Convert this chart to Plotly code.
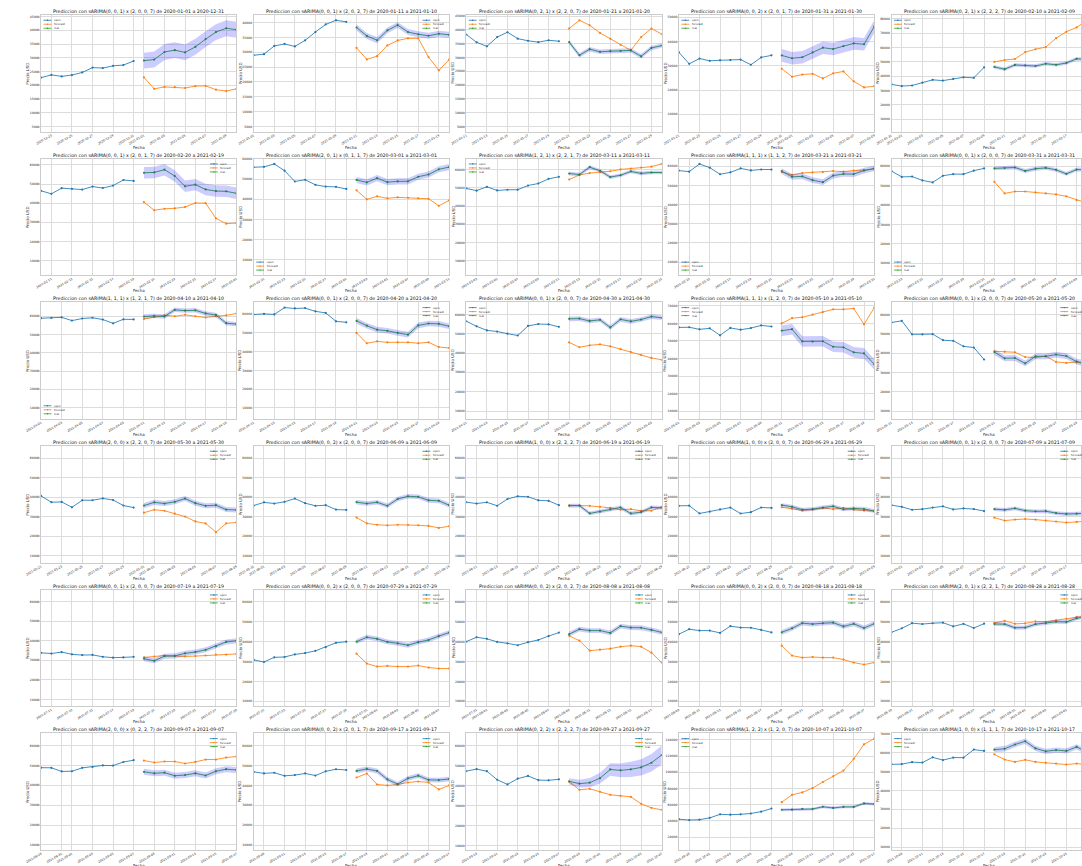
import math
import pandas as pd
import plotly.graph_objects as go

ANCHO, ALTO = 1082, 866

# Precio de apertura diario BTC-USD, 2020-12-22 .. 2021-10-27 (diez dias por fila)
open_usd = [
    22794, 23782, 23241, 23733, 24678, 26439, 26280, 27081, 27360, 28841,
    28995, 29376, 32129, 32810, 31977, 34013, 36826, 39381, 40788, 40254,
    38346, 35516, 34051, 37394, 39157, 36828, 36070, 35565, 36250, 35900,
    35547, 30817, 33005, 32065, 32286, 32359, 32565, 30442, 33468, 34318,
    34296, 33115, 33533, 35510, 37475, 36931, 38138, 39250, 38886, 46184,
    46469, 44898, 47877, 47491, 47114, 48696, 47945, 49207, 52140, 51675,
    55888, 56100, 57532, 54204, 48835, 49709, 47180, 46345, 46194, 45159,
    49612, 48416, 50522, 48528, 48900, 48918, 51207, 52302, 54861, 55964,
    57752, 57212, 61222, 59267, 55841, 56826, 58893, 57851, 58333, 58309,
    57517, 54511, 54711, 52727, 51683, 55137, 55974, 55948, 57751, 58930,
    58927, 59098, 59397, 57605, 58760, 59171, 58186, 56099, 58326, 58253,
    59846, 60175, 59890, 63523, 63075, 63259, 61529, 60701, 56191, 55681,
    56471, 53857, 51739, 51143, 50052, 49077, 54030, 55036, 54858, 53568,
    57714, 57825, 56620, 57215, 53252, 57441, 56413, 57352, 58877, 58250,
    55848, 56714, 49735, 49682, 49856, 46717, 46415, 43538, 42944, 36754,
    40597, 37371, 37531, 34771, 38393, 38392, 39316, 38507, 35684, 34607,
    35658, 37293, 36699, 37599, 39242, 36880, 35539, 35835, 33589, 33417,
    37389, 36697, 37340, 35556, 39016, 40427, 40168, 38341, 38100, 35854,
    35563, 35641, 31622, 32515, 33683, 34663, 31594, 32287, 34679, 34476,
    35908, 35035, 33549, 33854, 34665, 35284, 33723, 34225, 33889, 32877,
    33857, 33510, 34259, 33086, 32729, 32813, 31841, 31397, 31534, 31801,
    30838, 29797, 32139, 32305, 33593, 34290, 35406, 37253, 39456, 40008,
    40026, 42245, 41461, 39907, 39178, 38213, 39744, 40865, 42832, 44574,
    43791, 46280, 45601, 45574, 44429, 47835, 47096, 47020, 45937, 44686,
    44741, 46723, 49328, 48869, 49292, 49562, 47706, 48992, 46895, 49077,
    48911, 48834, 47024, 47100, 48808, 49278, 50026, 49944, 51770, 52660,
    46827, 46070, 46395, 44843, 45207, 46057, 44960, 47099, 48137, 47771,
    47300, 48314, 47262, 43012, 40677, 43575, 44896, 42840, 42722, 43234,
    42202, 41064, 41536, 43816, 48138, 47689, 48200, 49174, 51487, 55339,
    53802, 53929, 54952, 54734, 57526, 56039, 57372, 57345, 61609, 60888,
    61548, 62043, 64285, 66002, 62237, 60694, 61369, 60894, 63032, 60352,
]
fechas = pd.date_range("2020-12-22", periods=len(open_usd), freq="D")

# Ordenes de cada modelo sARIMA
orden = [
    "(0, 0, 1)", "(0, 0, 1)", "(0, 2, 1)", "(0, 0, 2)", "(0, 2, 1)",
    "(0, 0, 1)", "(2, 0, 1)", "(1, 2, 1)", "(1, 1, 1)", "(0, 0, 1)",
    "(1, 1, 1)", "(0, 0, 1)", "(0, 0, 1)", "(1, 1, 1)", "(0, 0, 1)",
    "(2, 0, 0)", "(0, 0, 2)", "(1, 0, 0)", "(1, 0, 0)", "(0, 0, 1)",
    "(0, 0, 1)", "(0, 0, 2)", "(0, 0, 2)", "(0, 0, 2)", "(2, 0, 1)",
    "(2, 0, 0)", "(0, 0, 2)", "(0, 2, 2)", "(1, 2, 2)", "(1, 0, 0)",
]
orden_estacional = [
    "(2, 0, 0, 7)", "(2, 0, 2, 7)", "(2, 2, 0, 7)", "(2, 0, 1, 7)", "(2, 2, 2, 7)",
    "(2, 0, 1, 7)", "(0, 1, 1, 7)", "(2, 2, 1, 7)", "(1, 1, 2, 7)", "(2, 0, 0, 7)",
    "(1, 2, 1, 7)", "(2, 0, 0, 7)", "(2, 0, 0, 7)", "(1, 2, 0, 7)", "(2, 0, 0, 7)",
    "(2, 2, 0, 7)", "(2, 0, 0, 7)", "(2, 2, 2, 7)", "(2, 0, 0, 7)", "(2, 0, 0, 7)",
    "(2, 0, 0, 7)", "(2, 0, 0, 7)", "(2, 0, 2, 7)", "(2, 0, 0, 7)", "(2, 2, 1, 7)",
    "(0, 2, 2, 7)", "(2, 0, 1, 7)", "(2, 2, 2, 7)", "(1, 2, 0, 7)", "(1, 1, 1, 7)",
]

# Pronostico a diez dias de cada ventana
pronostico = [
    [22900, 18700, 19400, 19300, 19000, 19700, 19800, 18400, 17900, 18700],
    [31500, 27600, 28700, 32300, 34000, 34700, 34700, 28400, 23900, 27500],
    [40500, 43500, 41700, 38900, 36800, 34600, 32600, 37400, 40500, 38500],
    [28800, 25500, 26400, 26700, 24800, 26900, 27700, 23600, 21100, 21600],
    [50000, 51300, 52000, 56800, 58800, 60300, 66500, 71000, 74000, 79000],
    [40600, 36300, 37100, 37300, 38000, 40100, 40000, 32100, 29300, 29600],
    [44500, 40000, 41500, 40500, 41000, 40800, 40500, 40300, 36800, 39500],
    [54500, 57000, 58000, 58500, 59000, 60000, 60500, 61000, 61500, 63000],
    [57000, 55500, 56500, 56800, 57000, 57500, 57200, 57800, 58000, 58500],
    [52000, 46000, 47000, 47000, 46500, 46000, 45500, 44500, 42500, 41000],
    [58500, 59500, 60500, 60000, 60800, 60000, 59300, 60000, 60500, 61500],
    [50000, 44500, 45500, 45000, 45000, 45000, 44500, 45000, 42500, 42000],
    [45500, 43000, 44000, 44500, 43500, 42000, 40500, 39000, 37500, 36500],
    [60000, 63000, 63500, 65000, 66500, 68000, 68000, 68500, 59500, 69000],
    [41000, 40800, 40500, 38000, 37800, 38500, 35500, 35000, 35500, 34000],
    [32000, 33500, 33000, 31500, 30000, 27500, 26500, 22000, 26500, 27000],
    [29500, 26500, 25800, 25500, 25800, 25800, 25500, 25200, 24200, 25000],
    [35800, 35700, 35500, 35000, 34500, 33500, 33800, 33000, 33000, 35000],
    [34800, 34000, 33200, 33600, 34400, 33800, 34500, 33500, 33000, 32800],
    [29500, 28000, 28500, 28800, 28500, 28000, 27500, 27000, 27300, 27800],
    [31500, 32000, 32500, 32200, 32000, 32200, 32500, 33000, 33000, 33300],
    [34000, 29000, 27500, 27800, 27500, 27500, 28000, 27000, 26500, 26500],
    [43000, 40500, 35500, 36000, 36500, 37500, 38000, 37500, 34500, 29500],
    [38000, 33000, 32000, 32300, 32000, 32000, 31000, 29500, 28500, 29500],
    [49500, 50500, 49000, 49200, 50200, 50000, 50800, 51500, 52500, 53000],
    [52500, 51500, 52000, 52000, 51000, 51800, 53000, 53000, 54000, 54500],
    [44000, 46000, 40500, 40000, 40500, 41500, 42000, 41500, 38000, 40000],
    [42000, 38000, 38500, 37000, 35500, 35000, 34500, 31000, 29000, 28000],
    [63200, 72300, 75200, 80600, 88100, 95200, 102200, 116700, 134600, 141700],
    [59100, 56300, 55100, 56200, 55100, 54600, 54200, 53700, 54200, 53700],
]

# Semiancho de la banda alrededor del valor real (la ventana 28 se abre dia a dia)
banda = [2900, 1000, 800, 2600, 1200, 3000, 1500, 1000, 1500, 1000,
         1200, 1500, 1200, 3000, 1500, 1300, 1200, 1000, 1000, 1000,
         1300, 1200, 1200, 1200, 1000, 1500, 1200, None, 1700, 1400]
banda_ventana_28 = [1500, 1900, 2300, 2700, 3100, 3400, 3800, 4100, 4400, 4700]

# Minimo de apertura dentro de cada ano de entrenamiento
minimo_entrenamiento = [5017, 5017, 5017, 5017, 5017, 5017, 5017, 5017, 5831, 6430,
                        6640, 6880, 8610, 8610, 8786, 9048, 9048, 9048, 9084, 9131,
                        9161, 10134, 10134, 10134, 10134, 10134, 10249, 10603, 10603, 11322]

posicion_leyenda = ["UL", "UR", "UL", "UL", "UL",
                    "UR", "LL", "UL", "LL", "LL",
                    "LL", "UR", "UL", "UL", "UR",
                    "UR", "UR", "UR", "UR", "UR",
                    "UR", "UR", "UR", "UR", "UR",
                    "UR", "UR", "UR", "UL", "UL"]

AZUL, NARANJA, VERDE = "#1f77b4", "#ff7f0e", "#2ca02c"
RELLENO = "rgba(0,0,255,0.2)"
GRID, BORDE, TEXTO = "#dcdcdc", "#cccccc", "#262626"
FUENTE = "DejaVu Sans"


def paso_nice(span, nbins=9):
    bruto = span / nbins
    mag = 10 ** math.floor(math.log10(bruto))
    for s in (1, 2, 2.5, 5, 10):
        if s * mag >= bruto - 1e-9:
            return s * mag
    return 10 * mag


def px(x):
    return x / ANCHO


def py(y):
    return 1 - y / ALTO


fig = go.Figure()
layout = {}
formas = []
notas = []

for k in range(30):
    fila, col = divmod(k, 5)
    x0 = 25.5 + 216 * col
    x1 = x0 + 198.5
    y0 = 13 + 144 * fila
    y1 = y0 + 117
    sufijo = "" if k == 0 else str(k + 1)
    xa, ya = "x" + sufijo, "y" + sufijo

    f_open = fechas[10 * k:10 * k + 10]
    v_open = open_usd[10 * k:10 * k + 10]
    f_real = fechas[10 * k + 10:10 * k + 20]
    v_real = open_usd[10 * k + 10:10 * k + 20]
    v_fc = pronostico[k]
    semi = banda_ventana_28 if banda[k] is None else [banda[k]] * 10
    sup = [v + h for v, h in zip(v_real, semi)]
    inf = [v - h for v, h in zip(v_real, semi)]

    comun = dict(xaxis=xa, yaxis=ya, showlegend=False, hoverinfo="skip")
    for xs, ys, color in ((f_open, v_open, AZUL), (f_real, v_fc, NARANJA), (f_real, v_real, VERDE)):
        fig.add_trace(go.Scatter(x=xs, y=ys, mode="lines+markers",
                                 line=dict(color=color, width=0.85),
                                 marker=dict(size=2.2, color=color), **comun))
    fig.add_trace(go.Scatter(x=f_real, y=sup, mode="lines", line=dict(width=0), **comun))
    fig.add_trace(go.Scatter(x=f_real, y=inf, mode="lines", line=dict(width=0),
                             fill="tonexty", fillcolor=RELLENO, **comun))

    # escala vertical: todo el ano de entrenamiento mas lo dibujado, con 5 % de margen
    todos = list(v_open) + list(v_fc) + sup + inf
    mn = min(minimo_entrenamiento[k], min(todos))
    mx = max(max(open_usd[:10 * k + 10]), max(todos))
    pad = 0.05 * (mx - mn)
    lo, hi = mn - pad, mx + pad

    d_ini, d_fin = fechas[10 * k], fechas[10 * k + 19]
    if x1 > ANCHO:
        d_fin = d_ini + (d_fin - d_ini) * ((ANCHO - x0) / (x1 - x0))
    marcas = [d for d in fechas[10 * k:10 * k + 20] if d.day % 2 == 1]

    layout["xaxis" + sufijo] = dict(
        domain=[px(x0), px(min(x1, ANCHO))], anchor=ya, type="date",
        range=[d_ini, d_fin], tickvals=marcas, tickformat="%Y-%m-%d",
        tickangle=-30, tickfont=dict(size=3, color=TEXTO, family=FUENTE),
        showgrid=True, gridcolor=GRID, gridwidth=0.6, zeroline=False,
        showline=True, linecolor=BORDE, linewidth=0.8, mirror=True, ticks="")
    layout["yaxis" + sufijo] = dict(
        domain=[py(y1), py(y0)], anchor=xa, range=[lo, hi],
        dtick=paso_nice(hi - lo), tick0=0, tickformat="d",
        tickfont=dict(size=3.1, color=TEXTO, family=FUENTE),
        showgrid=True, gridcolor=GRID, gridwidth=0.6, zeroline=False,
        showline=True, linecolor=BORDE, linewidth=0.8, mirror=True, ticks="")

    cx = (x0 + x1) / 2
    ini = pd.Timestamp("2020-01-01") + pd.Timedelta(days=10 * k)
    fin = ini + pd.Timedelta(days=365)
    titulo = (f"Prediccion con sARIMA{orden[k]} x {orden_estacional[k]} "
              f"de {ini:%Y-%m-%d} a {fin:%Y-%m-%d}")
    notas.append(dict(x=px(cx), y=py(y0 - 3.6), xref="paper", yref="paper",
                      text=titulo, showarrow=False, xanchor="center", yanchor="middle",
                      font=dict(size=4.7, color="#111111", family=FUENTE), borderpad=0))
    notas.append(dict(x=px(cx), y=py(y1 + 15.5), xref="paper", yref="paper",
                      text="Fecha", showarrow=False, xanchor="center", yanchor="middle",
                      font=dict(size=4, color=TEXTO, family=FUENTE), borderpad=0))
    notas.append(dict(x=px(x0 - 14), y=py((y0 + y1) / 2), xref="paper", yref="paper",
                      text="Precio USD", showarrow=False, textangle=-90,
                      xanchor="center", yanchor="middle",
                      font=dict(size=4, color=TEXTO, family=FUENTE), borderpad=0))

    # leyenda de cada panel
    pos = posicion_leyenda[k]
    lx = x0 + 2.5 if pos[1] == "L" else x1 - 27
    base = y0 + 5.3 if pos[0] == "U" else y1 - 13.3
    for i, (nombre, color) in enumerate((("open", AZUL), ("forecast", NARANJA), ("real", VERDE))):
        yy = base + 4 * i
        formas.append(dict(type="line", xref="paper", yref="paper",
                           x0=px(lx), x1=px(lx + 8), y0=py(yy), y1=py(yy),
                           line=dict(color=color, width=0.8)))
        formas.append(dict(type="circle", xref="paper", yref="paper",
                           x0=px(lx + 3.3), x1=px(lx + 4.7), y0=py(yy + 0.7), y1=py(yy - 0.7),
                           fillcolor=color, line=dict(width=0)))
        notas.append(dict(x=px(lx + 9.5), y=py(yy), xref="paper", yref="paper",
                          text=nombre, showarrow=False, xanchor="left", yanchor="middle",
                          font=dict(size=2.7, color=TEXTO, family=FUENTE), borderpad=0))

fig.update_layout(
    width=ANCHO, height=ALTO,
    margin=dict(l=0, r=0, t=0, b=0),
    paper_bgcolor="white", plot_bgcolor="white",
    font=dict(family=FUENTE, color=TEXTO),
    showlegend=False,
    shapes=formas, annotations=notas,
    **layout,
)

fig.write_html("out.html")
